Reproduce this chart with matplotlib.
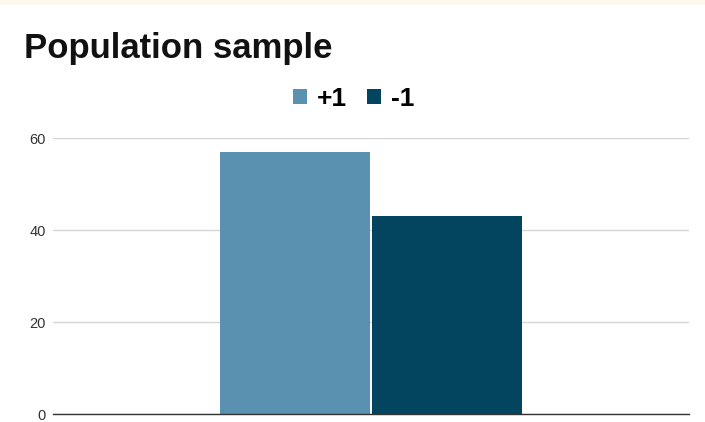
import matplotlib
matplotlib.use("Agg")
import matplotlib.pyplot as plt
from matplotlib.patches import Rectangle

plt.rcParams['font.family'] = ['Liberation Sans', 'DejaVu Sans']

categories = [""]
series_names = ["+1", "-1"]
values_plus = [57]
values_minus = [43]
colors = ["#5b91b0", "#03445f"]
yticks = [0, 20, 40, 60]

fig = plt.figure(figsize=(7.05, 4.22), dpi=100)
fig.patch.set_facecolor("white")
fig.add_artist(Rectangle((0, 1 - 5/422), 1, 5/422, transform=fig.transFigure,
                         facecolor="#fdf8ee", edgecolor="none"))

ax = fig.add_axes([53/705, 1 - 414/422, (689-53)/705, (414-138)/422])
x = list(range(len(categories)))
w = 0.235
b1 = ax.bar([i - 0.1195 for i in x], values_plus, width=w, color=colors[0], label=series_names[0], zorder=3)
b2 = ax.bar([i + 0.1195 for i in x], values_minus, width=w, color=colors[1], label=series_names[1], zorder=3)

ax.set_xlim(-0.5, 0.5)
ax.set_ylim(0, 60)
ax.set_yticks(yticks)
ax.set_yticklabels([str(t) for t in yticks], fontsize=10.5, color="#333333")
ax.set_xticks([])
ax.tick_params(axis="y", length=0, pad=5)
ax.grid(axis="y", color="#d6d6d6", linewidth=1, zorder=0)
for s in ["top", "right", "left"]:
    ax.spines[s].set_visible(False)
ax.spines["bottom"].set_color("#333333")
ax.spines["bottom"].set_linewidth(1)
ax.spines["bottom"].set_zorder(4)

fig.text(24/705, 1 - 58/422, "Population sample", fontsize=25, fontweight="bold",
         va="baseline", ha="left", color="#111111")

fig.legend(handles=[b1, b2], labels=series_names, loc="center", bbox_to_anchor=(354/705, 1 - 99/422),
           ncol=2, frameon=False, handlelength=0.53, handleheight=0.53,
           handletextpad=0.38, columnspacing=0.75, prop={"weight": "bold", "size": 19})

fig.savefig("out.png", dpi=100)
